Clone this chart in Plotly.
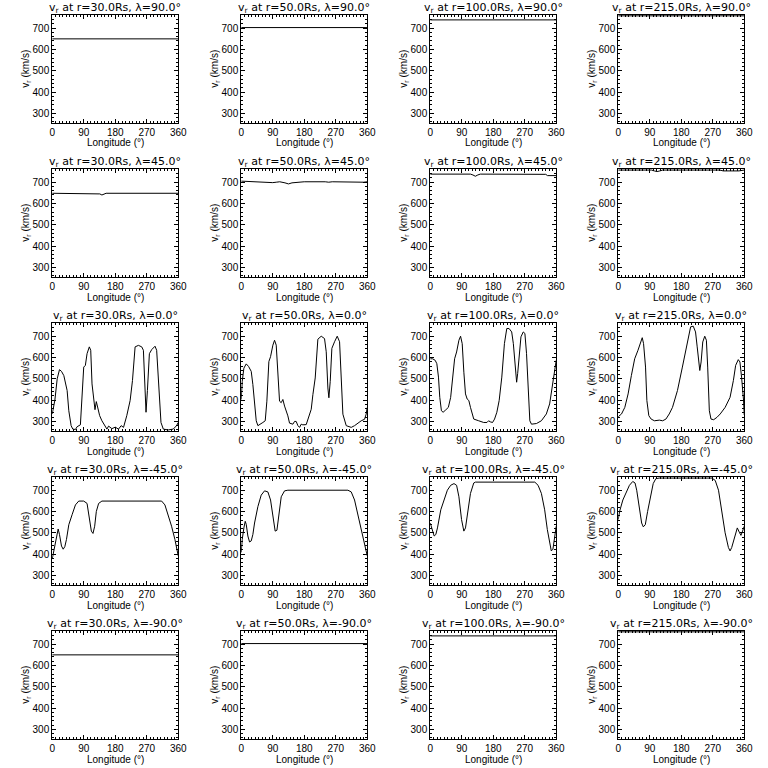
import plotly.graph_objects as go

# ---------------- data ----------------
radii = ["30.0", "50.0", "100.0", "215.0"]
lats = ["90.0", "45.0", "0.0", "-45.0", "-90.0"]

lon_flat = [0, 360]
v_pole_30 = [650, 650]
v_pole_50 = [703, 703]
v_pole_100 = [739, 739]
v_pole_215 = [758, 758]

lon_n45_30 = [0, 130, 136, 142, 148, 154, 360]
v_n45_30 = [648, 648, 645, 640, 645, 648, 648]
lon_n45_50 = [0, 20, 80, 90, 100, 110, 125, 135, 145, 160, 180, 240, 250, 260, 330, 340, 350, 360]
v_n45_50 = [705, 703, 700, 698, 700, 702, 697, 692, 697, 700, 702, 702, 700, 702, 700, 697, 700, 702]
lon_n45_100 = [0, 115, 122, 129, 136, 143, 330, 335, 360]
v_n45_100 = [738, 738, 734, 728, 734, 738, 737, 731, 731]
lon_n45_215 = [0, 95, 103, 111, 119, 127, 290, 300, 345, 355, 360]
v_n45_215 = [757, 757, 753, 750, 753, 757, 757, 753, 753, 757, 757]

lon_eq_30 = [0, 7.6, 14.2, 20.8, 26.5, 33.2, 42.6, 47.4, 54, 58.7, 66.3, 71, 80.5, 85.3, 90, 94.7, 99.5, 106, 110, 113.7,
             118.4, 122.2, 126, 129.8, 135.5, 142, 151.6, 156.3, 161, 170.5, 180, 189.5, 197, 203.7, 213, 222.6, 229.3,
             236.8, 246.3, 255.8, 260.5, 265.3, 268, 272, 277.6, 284.2, 293.7, 298.4, 305, 310.7, 317.4, 331.6, 345.8,
             355.3, 360]
v_eq_30 = [335, 400, 500, 543, 535, 515, 445, 350, 280, 264, 262, 275, 284, 400, 555, 563, 618, 650, 634, 476,
           390, 355, 393, 366, 327, 303, 280, 264, 278, 266, 273, 264, 280, 272, 327, 398, 492, 650, 657, 650,
           634, 460, 343, 445, 618, 637, 653, 634, 430, 295, 264, 260, 264, 280, 295]

lon_eq_50 = [0, 2.9, 7.6, 14.3, 21, 28.6, 33.3, 38.1, 42.9, 47.6, 52.4, 61.9, 68.6, 73.3, 79, 83.8, 90.5, 95.2, 100,
             104.8, 109.5, 114.3, 119, 123.8, 133.3, 138, 147.6, 152.4, 157, 162, 166.7, 171.4, 176, 185.7, 190.5, 200,
             204.8, 211.4, 219, 228.6, 238, 242.9, 247.6, 250.5, 254.3, 259, 266.7, 274.3, 281, 285.7, 290.5, 300,
             314.3, 323.8, 342.9, 352.4, 357, 360]
v_eq_50 = [403, 488, 550, 570, 558, 535, 473, 380, 303, 280, 284, 295, 303, 395, 581, 604, 658, 681, 658, 519,
           395, 388, 403, 372, 326, 292, 287, 300, 300, 280, 272, 287, 284, 285, 310, 357, 426, 504, 686, 700,
           689, 627, 457, 411, 488, 643, 674, 700, 674, 473, 334, 280, 272, 280, 303, 310, 334, 365]

lon_eq_100 = [0, 6.6, 14.1, 18.9, 23.6, 27.3, 32, 36.8, 44.3, 51.8, 58.4, 63.1, 69.7, 75.4, 82, 86.7, 91.4, 96.1,
              100.8, 105.6, 110.3, 115, 119.7, 124.4, 138.5, 152.7, 162.1, 166.8, 171.5, 178.1, 183.8, 190.4, 197,
              204.5, 212, 218.7, 225.3, 232.8, 237.5, 242.2, 246.9, 249.8, 254.5, 259.2, 265.8, 270.5, 275.2, 279.9,
              284.6, 289.3, 303.5, 317.6, 331.8, 341.2, 350.6, 355.3, 360]
v_eq_100 = [594, 594, 587, 571, 508, 413, 350, 343, 354, 366, 413, 492, 594, 626, 681, 700, 665, 531, 429, 405,
            398, 366, 335, 311, 303, 295, 295, 303, 298, 295, 311, 343, 398, 508, 665, 736, 736, 720, 665, 555,
            484, 524, 618, 697, 720, 713, 618, 429, 303, 287, 290, 303, 335, 382, 476, 524, 587]

lon_eq_215 = [0, 9.4, 18.8, 28.2, 37.6, 47, 56.4, 63, 68.6, 72.4, 78, 81.8, 87.4, 94, 103.4, 117.5, 126.9, 136.3,
              145.7, 155, 169.2, 183.3, 197.4, 206.8, 214.3, 220.9, 225.6, 230.3, 233, 236.8, 241.5, 247.2, 251.9,
              255.6, 260.3, 265, 272.6, 282, 291.4, 305.5, 319.5, 329, 335.5, 343, 347.7, 352.4, 356.2, 358, 360]
v_eq_215 = [322, 335, 366, 429, 516, 594, 634, 673, 693, 665, 555, 398, 327, 311, 303, 306, 303, 311, 335, 366,
            445, 555, 673, 744, 747, 720, 650, 571, 539, 579, 673, 700, 681, 555, 350, 311, 308, 319, 335, 366,
            413, 492, 563, 590, 579, 508, 445, 400, 330]

lon_s45_30 = [0, 2.8, 7.6, 12.3, 17, 20.8, 26.5, 31.3, 36, 40.7, 47.4, 56.8, 66.3, 75.8, 90, 99.5, 106, 111.8, 116.5,
              121.3, 126, 132.6, 142, 312.6, 322, 331.6, 341, 350.5, 358, 360]
v_s45_30 = [377, 400, 423, 477, 518, 492, 438, 423, 435, 469, 538, 585, 631, 649, 649, 638, 577, 508, 497, 531,
            600, 638, 649, 649, 631, 585, 531, 469, 408, 392]

lon_s45_50 = [0, 2.9, 7.6, 11.4, 14.3, 19, 23.8, 28.6, 33.3, 38.1, 47.6, 57.1, 66.7, 76.2, 83.8, 90.5, 97, 102,
              106.7, 114.3, 123.8, 133.3, 304.8, 314.3, 323.8, 333.3, 342.9, 352.4, 360]
v_s45_50 = [408, 469, 523, 554, 540, 485, 457, 462, 492, 546, 623, 677, 697, 692, 654, 577, 508, 512, 577, 669,
            697, 700, 700, 692, 654, 585, 515, 446, 392]

lon_s45_100 = [0, 2.8, 6.6, 11.3, 16, 20.7, 30.2, 39.6, 49, 58.4, 67.9, 75.4, 82, 89.5, 96.1, 100.8, 108.4, 115,
               124.4, 129.1, 298.8, 308.2, 317.6, 327, 334.6, 341.2, 345.9, 350.6, 355.3, 360]
v_s45_100 = [546, 531, 500, 485, 492, 523, 608, 654, 700, 723, 731, 723, 669, 562, 508, 523, 600, 685, 734, 738,
             738, 723, 685, 608, 515, 446, 415, 423, 469, 531]

lon_s45_215 = [0, 3.8, 13.2, 22.6, 32, 41.5, 48, 52.8, 60.3, 66.9, 71.6, 77.3, 83.9, 91.4, 99.9, 107.4, 116.9,
               267.7, 277.1, 286.5, 296, 305.4, 314.8, 319.5, 324.2, 333.6, 340.2, 345.9, 350.6, 355.3, 360]
v_s45_215 = [562, 600, 654, 692, 723, 741, 734, 700, 608, 546, 528, 538, 600, 669, 731, 754, 757, 757, 746, 700,
             608, 500, 431, 415, 431, 485, 523, 503, 488, 508, 531]

series = [
    [(lon_flat, v_pole_30), (lon_flat, v_pole_50), (lon_flat, v_pole_100), (lon_flat, v_pole_215)],
    [(lon_n45_30, v_n45_30), (lon_n45_50, v_n45_50), (lon_n45_100, v_n45_100), (lon_n45_215, v_n45_215)],
    [(lon_eq_30, v_eq_30), (lon_eq_50, v_eq_50), (lon_eq_100, v_eq_100), (lon_eq_215, v_eq_215)],
    [(lon_s45_30, v_s45_30), (lon_s45_50, v_s45_50), (lon_s45_100, v_s45_100), (lon_s45_215, v_s45_215)],
    [(lon_flat, v_pole_30), (lon_flat, v_pole_50), (lon_flat, v_pole_100), (lon_flat, v_pole_215)],
]

x_ticks = [0, 90, 180, 270, 360]
y_ticks = [300, 400, 500, 600, 700]

# ---------------- layout (pixels) ----------------
W = H = 768
col_left = [50, 242, 434, 625]
col_w = 128
row_top = [15, 169, 323, 477, 631]
row_h = 108

TICK_FONT = dict(family="Liberation Sans, Arial, sans-serif", size=10, color="black")
TITLE_FONT = dict(family="DejaVu Sans, sans-serif", size=11, color="black")
AX_FONT = dict(family="Liberation Sans, Arial, sans-serif", size=10, color="black")

fig = go.Figure()
annotations = []
layout_axes = {}

k = 0
for i in range(5):
    for j in range(4):
        k += 1
        xs, ys = series[i][j]
        xa = "x" if k == 1 else f"x{k}"
        ya = "y" if k == 1 else f"y{k}"
        fig.add_trace(go.Scatter(x=xs, y=ys, mode="lines", xaxis=xa, yaxis=ya,
                                 line=dict(color="black", width=1), showlegend=False,
                                 hoverinfo="skip"))
        x0 = col_left[j] / W
        x1 = (col_left[j] + col_w) / W
        y1 = 1 - row_top[i] / H
        y0 = 1 - (row_top[i] + row_h) / H
        common = dict(showline=True, linecolor="black", linewidth=1, mirror="ticks",
                      ticks="inside", ticklen=4, tickcolor="black", tickwidth=1,
                      showgrid=False, zeroline=False, tickfont=TICK_FONT)
        layout_axes["xaxis" if k == 1 else f"xaxis{k}"] = dict(
            domain=[x0, x1], anchor=ya, range=[0, 360], tickmode="array", tickvals=x_ticks,
            minor=dict(ticks="inside", ticklen=2, tickcolor="black", tickmode="linear", tick0=0, dtick=10),
            **common)
        layout_axes["yaxis" if k == 1 else f"yaxis{k}"] = dict(
            domain=[y0, y1], anchor=xa, range=[255, 762], tickmode="array", tickvals=y_ticks,
            minor=dict(ticks="inside", ticklen=2, tickcolor="black", tickmode="linear", tick0=0, dtick=20),
            **common)
        cx = (col_left[j] + col_w / 2) / W
        annotations.append(dict(
            text=f"v<sub>r</sub> at r={radii[j]}Rs, λ={lats[i]}°", xref="paper", yref="paper",
            x=cx, y=1 - (row_top[i] - 7.5) / H, xanchor="center", yanchor="middle",
            showarrow=False, font=TITLE_FONT))
        annotations.append(dict(
            text="Longitude (°)", xref="paper", yref="paper",
            x=cx, y=1 - (row_top[i] + row_h + 20) / H, xanchor="center", yanchor="middle",
            showarrow=False, font=AX_FONT))
        annotations.append(dict(
            text="v<sub>r</sub> (km/s)", xref="paper", yref="paper",
            x=(col_left[j] - 27) / W, y=1 - (row_top[i] + row_h / 2) / H,
            xanchor="center", yanchor="middle", textangle=-90,
            showarrow=False, font=AX_FONT))

fig.update_layout(width=W, height=H, margin=dict(l=0, r=0, t=0, b=0),
                  paper_bgcolor="white", plot_bgcolor="white",
                  annotations=annotations, **layout_axes)

fig.write_html("out.html", config={"displayModeBar": False},
               post_script="document.body.style.margin='0';document.body.style.overflow='hidden';")
